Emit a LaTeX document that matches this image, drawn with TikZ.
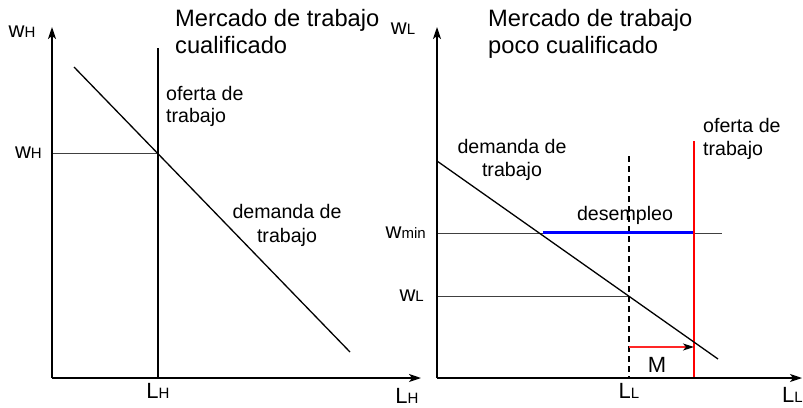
\documentclass[tikz,border=0pt]{standalone}
\usepackage{fontspec}
\setmainfont{Liberation Sans}
\usetikzlibrary{arrows.meta, positioning}

\newcommand{\sublab}[2]{{\fontsize{22}{22}\selectfont #1}{\fontsize{15}{15}\selectfont #2}}

\begin{document}
\begin{tikzpicture}[x=1pt, y=-1pt, font=\fontsize{19.6}{23}\selectfont]
    \tikzstyle{axis} = [line width=1.6pt, -{Stealth[length=12pt, width=8pt, inset=3pt]}]
    \tikzstyle{curve} = [line width=1.3pt]
    \tikzstyle{guide} = [line width=0.9pt, black!75]
    \tikzstyle{lbl} = [inner sep=0pt]
    \tikzstyle{txt} = [inner sep=0pt, anchor=base west, align=left]
    \tikzstyle{title} = [txt, font=\fontsize{23.7}{27}\selectfont]

    \useasboundingbox (0,0) rectangle (803,407);

    % left: cualificado
    \coordinate (oH) at (52,378);
    \coordinate (yH) at (52,27);
    \coordinate (xH) at (421,378);
    \coordinate (sH1) at (158,48);
    \coordinate (sH0) at (158,378);
    \coordinate (dH1) at (74,67);
    \coordinate (dH0) at (350,352);
    \coordinate (eH) at (158,153);
    \coordinate (wH) at (52,153);

    \draw [guide] (wH) -- (eH);
    \draw [curve] (sH1) -- (sH0);
    \draw [curve] (dH1) -- (dH0);
    \draw [axis] (oH) -- (yH);
    \draw [axis] (oH) -- (xH);

    \node (titleH) [title] at (175,53) {Mercado de trabajo\\cualificado};
    \node (yHlab) [lbl] at (22,32) {\sublab{w}{H}};
    \node (wHlab) [lbl, left=10pt of wH] {\sublab{w}{H}};
    \node (LHlab) [lbl, below=5pt of sH0] {\sublab{L}{H}};
    \node (xHlab) [lbl, anchor=base] at (407,403) {\sublab{L}{H}};
    \node (supH) [txt, font=\fontsize{19.6}{21.5}\selectfont] at (166,122) {oferta de\\trabajo};
    \node (demH) [txt, anchor=base, align=center, font=\fontsize{19.6}{24}\selectfont] at (287,242) {demanda de\\trabajo};

    % right: poco cualificado
    \coordinate (oL) at (437,378);
    \coordinate (yL) at (437,27);
    \coordinate (xL) at (802,378);
    \coordinate (dL1) at (437,161);
    \coordinate (dL0) at (718,359);
    \coordinate (fL1) at (629,156);
    \coordinate (fL0) at (629,378);
    \coordinate (sL1) at (694,141);
    \coordinate (sL0) at (694,378);
    \coordinate (mL0) at (437,233);
    \coordinate (mL1) at (722,233);
    \coordinate (uL0) at (543,232.5);
    \coordinate (uL1) at (694,232.5);
    \coordinate (wL0) at (437,296);
    \coordinate (eL) at (629,296);
    \coordinate (aL0) at (629,347);
    \coordinate (aL1) at (694,347);

    \draw [guide] (mL0) -- (mL1);
    \draw [guide] (wL0) -- (eL);
    \draw [curve, dash pattern=on 6pt off 4pt] (fL1) -- (fL0);
    \draw [line width=3pt, blue] (uL0) -- (uL1);
    \draw [curve, red] (sL1) -- (sL0);
    \draw [line width=1.2pt, red!85, -{Stealth[black, length=11pt, width=7pt, inset=3pt]}] (aL0) -- (aL1);
    \draw [curve] (dL1) -- (dL0);
    \draw [axis] (oL) -- (yL);
    \draw [axis] (oL) -- (xL);

    \node (titleL) [title] at (488,53) {Mercado de trabajo\\poco cualificado};
    \node (yLlab) [lbl] at (403,29) {\sublab{w}{L}};
    \node (wminlab) [lbl, left=11pt of mL0] {\sublab{w}{min}};
    \node (wLlab) [lbl, left=13pt of wL0] {\sublab{w}{L}};
    \node (LLlab) [lbl, below=5pt of fL0] {\sublab{L}{L}};
    \node (xLlab) [lbl, anchor=base west] at (782,402) {\sublab{L}{L}};
    \node (unemp) [lbl, anchor=base] at (625,220) {desempleo};
    \node (Mlab) [lbl, anchor=base, font=\fontsize{22}{22}\selectfont] at (657,372) {M};
    \node (supL) [txt] at (703,155) {oferta de\\trabajo};
    \node (demL) [txt, anchor=base, align=center] at (512,176) {demanda de\\trabajo};
\end{tikzpicture}
\end{document}
